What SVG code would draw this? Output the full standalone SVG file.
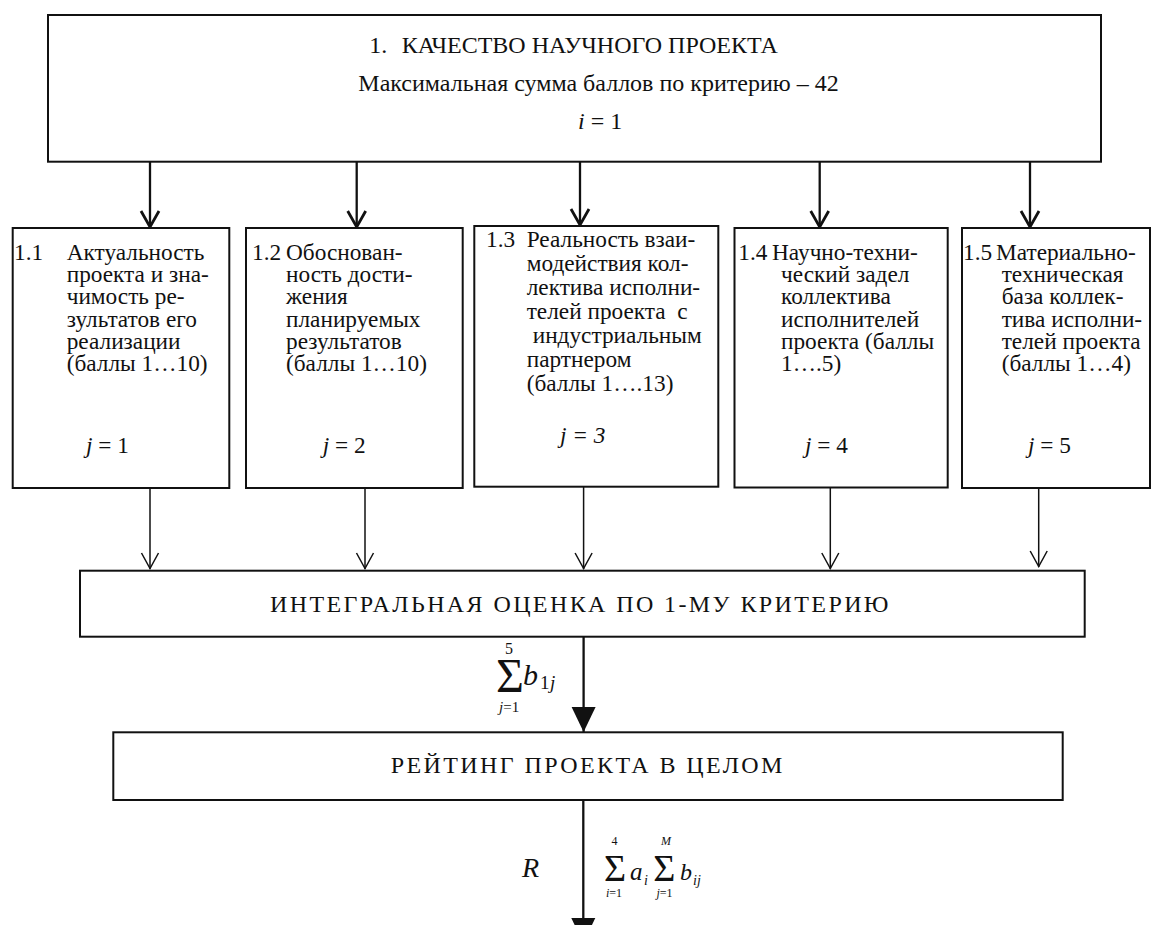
<svg xmlns="http://www.w3.org/2000/svg" width="1152" height="925" viewBox="0 0 1152 925" font-family="'Liberation Serif', 'Times New Roman', 'DejaVu Serif', serif">
<style>
  .box{fill:#fff;stroke:#111;stroke-width:2}
  text{font-family:'Liberation Serif','Times New Roman','DejaVu Serif',serif;fill:#111}
  .t{font-size:24px}
  .s{font-size:23.3px}
  .sp{font-size:24px;letter-spacing:2.4px}
  .i{font-style:italic}
  .thick{stroke:#111;stroke-width:2.3;fill:none}
  .thin{stroke:#111;stroke-width:1.5;fill:none}
</style>
<defs>
  <marker id="vThick" viewBox="-20 -12 22 24" markerWidth="22" markerHeight="24" refX="0" refY="0" orient="auto" markerUnits="userSpaceOnUse">
    <path d="M-17,-9 L-1,0 L-17,9" fill="none" stroke="#111" stroke-width="2.8"/>
  </marker>
  <marker id="vThin" viewBox="-20 -12 22 24" markerWidth="22" markerHeight="24" refX="0" refY="0" orient="auto" markerUnits="userSpaceOnUse">
    <path d="M-16,-8.5 L-0.5,0 L-16,8.5" fill="none" stroke="#111" stroke-width="1.5"/>
  </marker>
  <marker id="tri" viewBox="-26 -13 27 26" markerWidth="27" markerHeight="26" refX="0" refY="0" orient="auto" markerUnits="userSpaceOnUse">
    <path d="M-25,-12 L0,0 L-25,12 Z" fill="#111"/>
  </marker>
</defs>

<g id="connectors">
  <line class="thick" x1="150" y1="162" x2="150" y2="228" marker-end="url(#vThick)"/>
  <line class="thick" x1="356.7" y1="162" x2="356.7" y2="228" marker-end="url(#vThick)"/>
  <line class="thick" x1="580" y1="162" x2="580" y2="226" marker-end="url(#vThick)"/>
  <line class="thick" x1="819.7" y1="162" x2="819.7" y2="228" marker-end="url(#vThick)"/>
  <line class="thick" x1="1030" y1="162" x2="1030" y2="228" marker-end="url(#vThick)"/>

  <line class="thin" x1="150" y1="488" x2="150" y2="569" marker-end="url(#vThin)"/>
  <line class="thin" x1="365" y1="488" x2="365" y2="569" marker-end="url(#vThin)"/>
  <line class="thin" x1="583.6" y1="487" x2="583.6" y2="569" marker-end="url(#vThin)"/>
  <line class="thin" x1="830.3" y1="488" x2="830.3" y2="569" marker-end="url(#vThin)"/>
  <line class="thin" x1="1038.7" y1="488" x2="1038.7" y2="567" marker-end="url(#vThin)"/>

  <line class="thick" x1="583.6" y1="637" x2="583.6" y2="732" marker-end="url(#tri)"/>
  <line class="thick" x1="583.3" y1="800" x2="583.3" y2="943" marker-end="url(#tri)"/>
</g>

<g id="node-1">
  <rect class="box" x="48" y="15" width="1053" height="146.7" stroke-width="2.2"/>
  <text class="t" x="369.3" y="53">1.</text>
  <text class="t" x="401.7" y="53">КАЧЕСТВО НАУЧНОГО ПРОЕКТА</text>
  <text class="t" x="358.3" y="91">Максимальная сумма баллов по критерию – 42</text>
  <text class="t" x="578" y="129"><tspan class="i">i</tspan> = 1</text>
</g>

<g id="node-1-1">
  <rect class="box" x="12.7" y="228" width="216.6" height="260"/>
  <text class="s" x="14" y="260">1.1</text>
  <text class="s" x="66.7" y="260">Актуальность</text>
  <text class="s" x="66.7" y="282.2">проекта и зна-</text>
  <text class="s" x="66.7" y="304.4">чимость ре-</text>
  <text class="s" x="66.7" y="326.6">зультатов его</text>
  <text class="s" x="66.7" y="348.8">реализации</text>
  <text class="s" x="66.7" y="371">(баллы 1…10)</text>
  <text class="s" x="86" y="453"><tspan class="i">j</tspan> = 1</text>
</g>

<g id="node-1-2">
  <rect class="box" x="246" y="228" width="216.7" height="260"/>
  <text class="s" x="252" y="260">1.2</text>
  <text class="s" x="286" y="260">Обоснован-</text>
  <text class="s" x="286" y="282.2">ность дости-</text>
  <text class="s" x="286" y="304.4">жения</text>
  <text class="s" x="286" y="326.6">планируемых</text>
  <text class="s" x="286" y="348.8">результатов</text>
  <text class="s" x="286" y="371">(баллы 1…10)</text>
  <text class="s" x="322.7" y="453"><tspan class="i">j</tspan> = 2</text>
</g>

<g id="node-1-3">
  <rect class="box" x="474.3" y="226" width="244" height="260.7"/>
  <text class="s" x="486" y="246.5">1.3</text>
  <text class="s" x="526.7" y="246.5">Реальность взаи-</text>
  <text class="s" x="526.7" y="270.5">модействия кол-</text>
  <text class="s" x="526.7" y="294.5">лектива исполни-</text>
  <text class="s" x="526.7" y="318.5" xml:space="preserve">телей проекта  с</text>
  <text class="s" x="532.7" y="342.5">индустриальным</text>
  <text class="s" x="526.7" y="366.5">партнером</text>
  <text class="s" x="526.7" y="390.5">(баллы 1….13)</text>
  <text class="s i" x="560" y="443">j = 3</text>
</g>

<g id="node-1-4">
  <rect class="box" x="734.5" y="228" width="213.2" height="259.5"/>
  <text class="s" x="738.3" y="260">1.4</text>
  <text class="s" x="772" y="260">Научно-техни-</text>
  <text class="s" x="781" y="282.2">ческий задел</text>
  <text class="s" x="781" y="304.4">коллектива</text>
  <text class="s" x="781" y="326.6">исполнителей</text>
  <text class="s" x="781" y="348.8">проекта (баллы</text>
  <text class="s" x="781" y="371">1….5)</text>
  <text class="s" x="805" y="453"><tspan class="i">j</tspan> = 4</text>
</g>

<g id="node-1-5">
  <rect class="box" x="962" y="228" width="188" height="260"/>
  <text class="s" x="963" y="260">1.5</text>
  <text class="s" x="996" y="260">Материально-</text>
  <text class="s" x="1001.7" y="282.2">техническая</text>
  <text class="s" x="1001.7" y="304.4">база коллек-</text>
  <text class="s" x="1001.7" y="326.6">тива исполни-</text>
  <text class="s" x="1001.7" y="348.8">телей проекта</text>
  <text class="s" x="1001.7" y="371">(баллы 1…4)</text>
  <text class="s" x="1028" y="453"><tspan class="i">j</tspan> = 5</text>
</g>

<g id="node-integral">
  <rect class="box" x="80" y="570.7" width="1004.7" height="66"/>
  <text class="sp" x="270" y="612.3">ИНТЕГРАЛЬНАЯ ОЦЕНКА ПО 1-МУ КРИТЕРИЮ</text>
</g>

<g id="node-rating">
  <rect class="box" x="113.3" y="732.3" width="949.4" height="67.7"/>
  <text class="sp" x="390.7" y="773.3">РЕЙТИНГ ПРОЕКТА В ЦЕЛОМ</text>
</g>

<g id="formula-1">
  <text x="505" y="654" font-size="16">5</text>
  <text x="496" y="692" font-size="48">Σ</text>
  <text x="499" y="712" font-size="15"><tspan class="i">j</tspan>=1</text>
  <text class="i" x="523" y="685" font-size="30">b</text>
  <text x="540" y="689" font-size="19">1</text>
  <text class="i" x="550" y="689" font-size="19">j</text>
</g>

<g id="formula-2">
  <text class="i" x="522" y="877" font-size="28">R</text>
  <text x="611.5" y="845" font-size="12">4</text>
  <text x="604" y="881" font-size="38">Σ</text>
  <text x="606" y="897" font-size="12"><tspan class="i">i</tspan>=1</text>
  <text class="i" x="630" y="880" font-size="25">a</text>
  <text class="i" x="644" y="885" font-size="14">i</text>
  <text x="653.3" y="881" font-size="38">Σ</text>
  <text class="i" x="661" y="845" font-size="12">M</text>
  <text x="656.5" y="897" font-size="12"><tspan class="i">j</tspan>=1</text>
  <text class="i" x="680" y="880" font-size="24">b</text>
  <text class="i" x="693" y="885" font-size="14">ij</text>
</g>
</svg>
